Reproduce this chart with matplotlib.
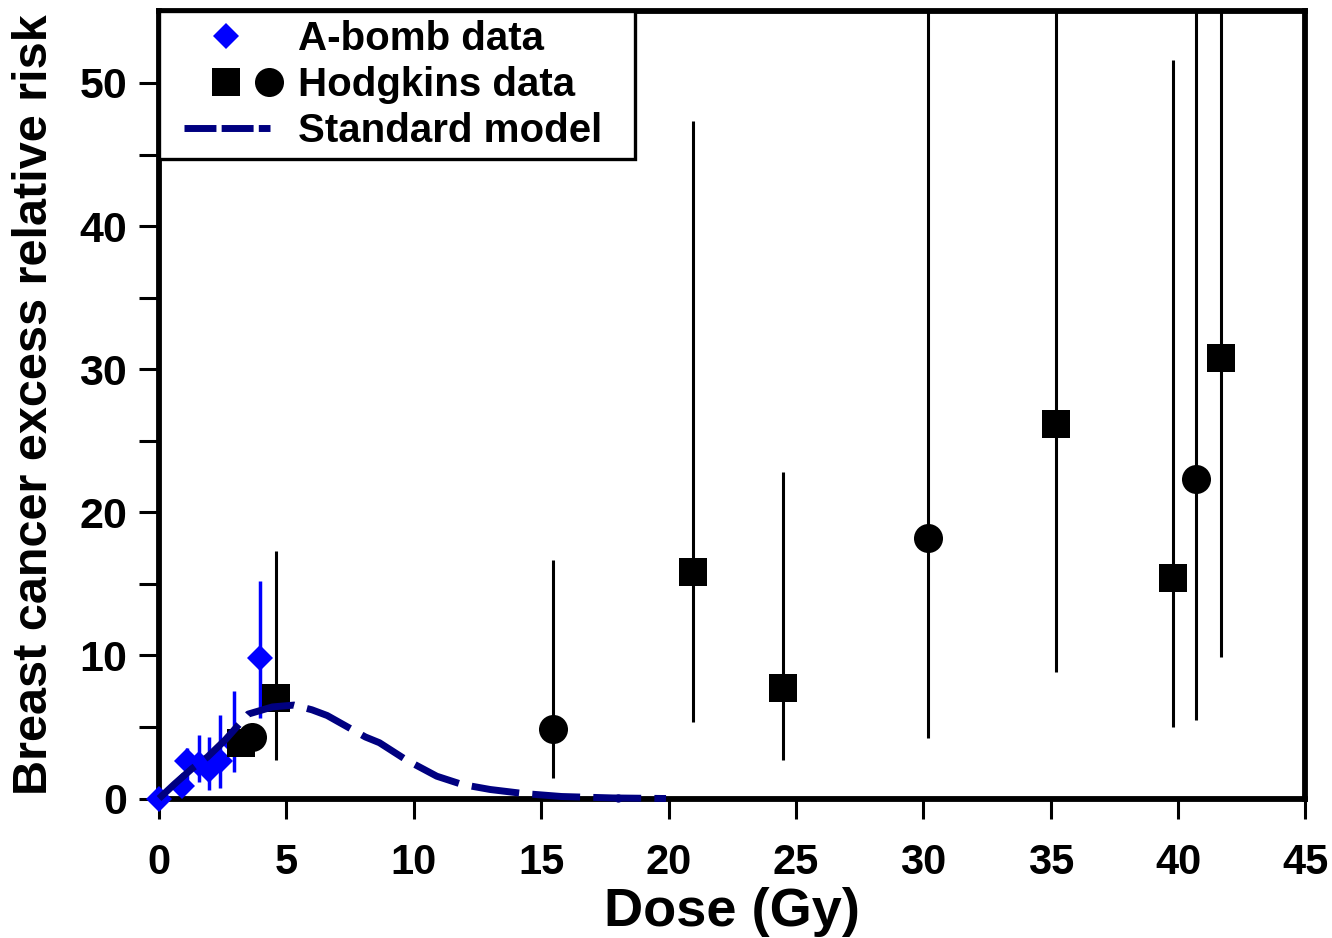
import numpy as np
import matplotlib
matplotlib.use("Agg")
import matplotlib.pyplot as plt
from matplotlib.lines import Line2D
from matplotlib.legend_handler import HandlerBase

# A-bomb survivor points (dose in Gy, excess relative risk, CI ends)
abomb_dose = [0.0, 0.9, 1.1, 1.58, 1.98, 2.4, 2.95, 3.96]
abomb_err = [0.0, 0.9, 2.6, 2.4, 2.0, 2.6, 3.9, 9.8]
abomb_lo = [0.0, 0.4, 1.17, 1.17, 0.59, 0.72, 1.87, 5.6]
abomb_hi = [0.0, 1.5, 3.54, 4.44, 4.33, 5.85, 7.5, 15.2]

# Hodgkins cohort, square symbols
hodg_sq_dose = [3.2, 4.6, 20.95, 24.5, 35.2, 39.8, 41.7]
hodg_sq_err = [3.9, 7.0, 15.85, 7.75, 26.2, 15.4, 30.8]
hodg_sq_lo = [3.9, 2.7, 5.35, 2.7, 8.85, 5.0, 9.9]
hodg_sq_hi = [3.9, 17.3, 47.35, 22.8, 60.0, 51.6, 60.0]

# Hodgkins cohort, circle symbols
hodg_ci_dose = [3.65, 15.45, 30.2, 40.7]
hodg_ci_err = [4.3, 4.84, 18.2, 22.3]
hodg_ci_lo = [4.3, 1.4, 4.23, 5.5]
hodg_ci_hi = [4.3, 16.7, 60.0, 60.0]

# standard model prediction
model_dose = [0, 0.6, 1.3, 1.9, 2.6, 3.5, 4.45, 5.3, 6.0, 6.6, 7.1, 7.6, 8.1,
              8.65, 9.7, 10.9, 11.9, 13.0, 14.3, 15.8, 17.8, 19.9]
model_err = [0, 1.0, 2.1, 2.9, 4.1, 5.9, 6.4, 6.53, 6.2, 5.8, 5.3, 4.8, 4.3,
             3.9, 2.7, 1.56, 0.98, 0.63, 0.35, 0.14, 0.04, 0.0]
model_dot = (18.0, 0.04)

x_ticks = [0, 5, 10, 15, 20, 25, 30, 35, 40, 45]
y_ticks = [0, 10, 20, 30, 40, 50]
y_minor = [5, 15, 25, 35, 45]

BLUE = "#0000ff"
NAVY = "#000080"
MODEL_LW = 5.0

plt.rcParams["font.family"] = ["Liberation Sans", "DejaVu Sans"]
plt.rcParams["font.weight"] = "bold"


def err_pair(vals, lo, hi):
    vals = np.array(vals)
    return [vals - np.array(lo), np.array(hi) - vals]


class PlacedHandler(HandlerBase):
    """Legend handle that puts markers / a dashed segment at given fractions."""

    def __init__(self, marks=(), seg=None):
        super().__init__()
        self.marks = marks
        self.seg = seg

    def create_artists(self, legend, orig_handle, xdescent, ydescent,
                       width, height, fontsize, trans):
        y = height / 2 - ydescent
        arts = []
        if self.seg is not None:
            x0 = -xdescent + self.seg[0] * width
            x1 = -xdescent + self.seg[1] * width
            ln = Line2D([x0, x1], [y, y], color=NAVY, lw=MODEL_LW,
                        dashes=(4.6, 0.75), solid_capstyle="butt")
            arts.append(ln)
        for frac, marker, ms, color in self.marks:
            mk = Line2D([-xdescent + frac * width], [y], linestyle="none",
                        marker=marker, ms=ms, color=color, mew=0)
            arts.append(mk)
        for a in arts:
            a.set_transform(trans)
        return arts


fig = plt.figure(figsize=(13.32, 9.38), dpi=100)
ax = fig.add_axes([0.1194, 0.1487, 0.9801 - 0.1194, 0.9878 - 0.1487])

ax.errorbar(abomb_dose, abomb_err, yerr=err_pair(abomb_err, abomb_lo, abomb_hi),
            fmt="D", ms=13.7, mew=0, color=BLUE, ecolor=BLUE, elinewidth=2.5,
            capsize=0, clip_on=False, zorder=3)
ax.errorbar(hodg_sq_dose, hodg_sq_err, yerr=err_pair(hodg_sq_err, hodg_sq_lo, hodg_sq_hi),
            fmt="s", ms=19.8, mew=0, color="black", ecolor="black", elinewidth=2.2,
            capsize=0, zorder=4)
ax.errorbar(hodg_ci_dose, hodg_ci_err, yerr=err_pair(hodg_ci_err, hodg_ci_lo, hodg_ci_hi),
            fmt="o", ms=20.9, mew=0, color="black", ecolor="black", elinewidth=2.2,
            capsize=0, zorder=4)
ax.plot(model_dose, model_err, color=NAVY, lw=MODEL_LW, dashes=(6.9, 1.9),
        solid_capstyle="butt", clip_on=False, zorder=5)
ax.plot([model_dot[0]], [model_dot[1]], "o", color=NAVY, ms=6, mew=0,
        clip_on=False, zorder=5)

ax.set_xlim(0, 45)
ax.set_ylim(0, 55)
ax.set_xticks(x_ticks)
ax.set_yticks(y_ticks)
ax.set_yticks(y_minor, minor=True)
ax.tick_params(axis="both", which="both", direction="out", length=14.5,
               width=2.2)
ax.tick_params(axis="x", which="major", labelsize=30, pad=17.7)
ax.tick_params(axis="y", which="major", labelsize=31, pad=8.5)
for lab in ax.get_xticklabels() + ax.get_yticklabels():
    lab.set_fontweight("bold")
for sp in ax.spines.values():
    sp.set_linewidth(4.2)

ax.set_xlabel("Dose (Gy)", fontsize=39, fontweight="bold", labelpad=3)
ax.set_ylabel("Breast cancer excess relative risk", fontsize=35,
              fontweight="bold", labelpad=16)

# legend
h_abomb = Line2D([], [])
h_hodg = Line2D([], [])
h_model = Line2D([], [])
leg = ax.legend([h_abomb, h_hodg, h_model],
                ["A-bomb data", "Hodgkins data", "Standard model"],
                handler_map={
                    h_abomb: PlacedHandler(marks=[(0.587, "D", 13.7, BLUE)]),
                    h_hodg: PlacedHandler(marks=[(0.585, "s", 19.8, "black"),
                                                 (1.02, "o", 20.9, "black")]),
                    h_model: PlacedHandler(seg=(0.165, 1.03)),
                },
                loc="upper left", bbox_to_anchor=(0, 1, 0.415, 0),
                mode="expand", borderaxespad=0,
                prop={"weight": "bold", "size": 29},
                frameon=True, framealpha=1, fancybox=False, handlelength=2.45,
                handletextpad=0.78, borderpad=0.22, labelspacing=0.2)
leg.get_frame().set_edgecolor("black")
leg.get_frame().set_linewidth(2.4)

fig.savefig("out.png", dpi=100)
